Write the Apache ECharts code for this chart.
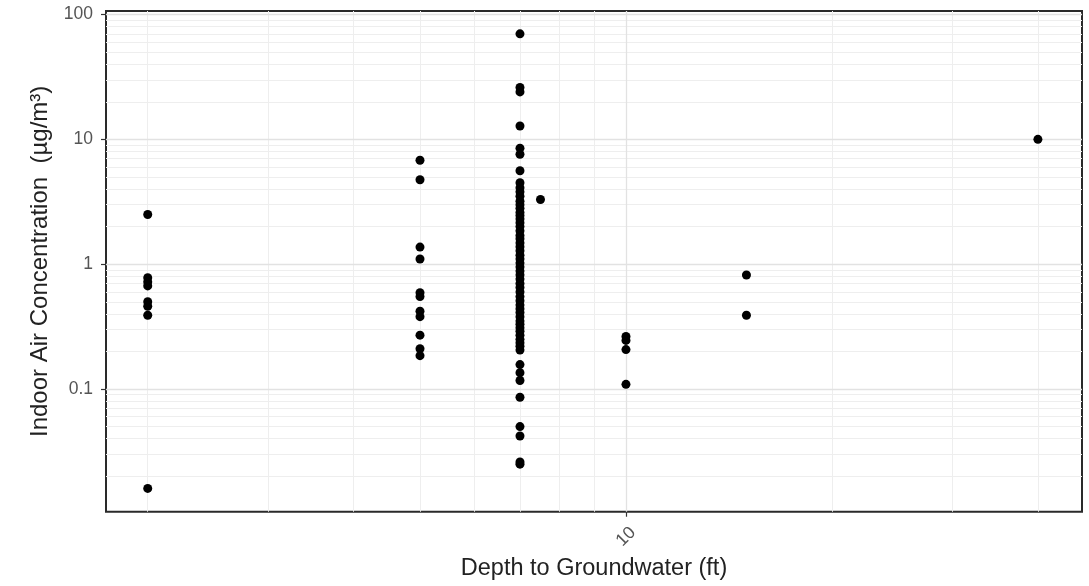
<!DOCTYPE html>
<html><head><meta charset="utf-8">
<script src="https://cdn.jsdelivr.net/npm/echarts@6/dist/echarts.min.js"></script>
<style>html,body{margin:0;padding:0;background:#fff}#c{width:1089px;height:586px}</style>
</head><body><div id="c"></div>
<script>
// Depth to groundwater (ft) for each column of points
const depths = [2, 5, 7, 7.5, 10, 15, 40];
// Indoor air concentration (µg/m³) read per depth
const concAt2 = [2.5, 0.78, 0.72, 0.67, 0.50, 0.46, 0.39, 0.016];
const concAt5 = [6.8, 4.75, 1.37, 1.1, 0.59, 0.55, 0.42, 0.38, 0.27, 0.21, 0.185];
const concAt7 = [70, 26, 24, 12.8, 8.5, 7.6, 5.6, 4.5, 4.1, 3.8, 3.5, 3.2, 3.0, 2.8, 2.6, 2.45, 2.3, 2.15, 2.0,
  1.85, 1.7, 1.6, 1.48, 1.38, 1.28, 1.18, 1.1, 1.02, 0.95, 0.88, 0.82, 0.76, 0.7, 0.65, 0.6, 0.55, 0.51,
  0.47, 0.44, 0.41, 0.38, 0.35, 0.33, 0.31, 0.29, 0.27, 0.25, 0.235, 0.22, 0.205,
  0.157, 0.135, 0.117, 0.086, 0.05, 0.042, 0.026, 0.025];
const concAt7_5 = [3.3];
const concAt10 = [0.264, 0.245, 0.207, 0.109];
const concAt15 = [0.82, 0.39];
const concAt40 = [10];
const concByDepth = [concAt2, concAt5, concAt7, concAt7_5, concAt10, concAt15, concAt40];

// Tick labels
const xTickLabels = [10];
const yTickLabels = [0.1, 1, 10, 100];
// Grid lines
const xMajorGrid = [10];
const xMinorGrid = [2, 3, 4, 5, 6, 7, 8, 9, 20, 30, 40];
const yMajorGrid = [0.1, 1, 10, 100];
const yMinorGrid = [0.02, 0.03, 0.04, 0.05, 0.06, 0.07, 0.08, 0.09,
  0.2, 0.3, 0.4, 0.5, 0.6, 0.7, 0.8, 0.9,
  2, 3, 4, 5, 6, 7, 8, 9,
  20, 30, 40, 50, 60, 70, 80, 90];

const points = [];
depths.forEach((d, i) => concByDepth[i].forEach(c => points.push([d, c])));

const minorStyle = {color: '#eeeeee', width: 1, type: 'solid'};
const majorStyle = {color: '#e2e2e2', width: 1.3, type: 'solid'};
const gridLines = [
  ...yMinorGrid.map(v => ({yAxis: v, lineStyle: minorStyle})),
  ...xMinorGrid.map(v => ({xAxis: v, lineStyle: minorStyle})),
  ...yMajorGrid.map(v => ({yAxis: v, lineStyle: majorStyle})),
  ...xMajorGrid.map(v => ({xAxis: v, lineStyle: majorStyle}))
];

const font = "'Liberation Sans', Arial, sans-serif";
const chart = echarts.init(document.getElementById('c'), null, {renderer: 'canvas'});
chart.setOption({
  animation: false,
  backgroundColor: '#fff',
  textStyle: {fontFamily: font},
  grid: {left: 106, right: 7, top: 11, bottom: 73, show: true, borderColor: '#2a2a2a', borderWidth: 2, backgroundColor: 'transparent', z: 0},
  xAxis: {
    type: 'log', logBase: 10, min: 1.738, max: 46.4,
    name: 'Depth to Groundwater (ft)', nameLocation: 'middle', nameGap: 45,
    nameTextStyle: {fontSize: 23.5, color: '#222', fontFamily: font},
    axisLine: {show: false},
    splitLine: {show: false}, minorSplitLine: {show: false},
    axisTick: {show: true, customValues: xTickLabels, length: 5, lineStyle: {color: '#333', width: 1.2}},
    axisLabel: {customValues: xTickLabels, rotate: 45, align: 'center', verticalAlign: 'middle', margin: 25,
      fontSize: 17.5, color: '#555', fontFamily: font, formatter: v => String(v)}
  },
  yAxis: {
    type: 'log', logBase: 10, min: 0.0104, max: 106.7,
    name: 'Indoor Air Concentration  (µg/m³)', nameLocation: 'middle', nameGap: 54,
    nameTextStyle: {fontSize: 24, color: '#222', fontFamily: font},
    axisLine: {show: false},
    splitLine: {show: false}, minorSplitLine: {show: false},
    axisTick: {show: true, customValues: yTickLabels, length: 5, lineStyle: {color: '#333', width: 1.2}},
    axisLabel: {customValues: yTickLabels, margin: 13, fontSize: 17.5, color: '#555', fontFamily: font,
      formatter: v => String(v)}
  },
  series: [
    {
      type: 'scatter', data: [], z: 1, silent: true,
      markLine: {z: 1, silent: true, symbol: ['none', 'none'], animation: false, label: {show: false},
        emphasis: {disabled: true}, data: gridLines}
    },
    {
      type: 'scatter', data: points, z: 10, symbol: 'circle', symbolSize: 9,
      itemStyle: {color: '#000', opacity: 1}
    }
  ]
});
</script></body></html>
